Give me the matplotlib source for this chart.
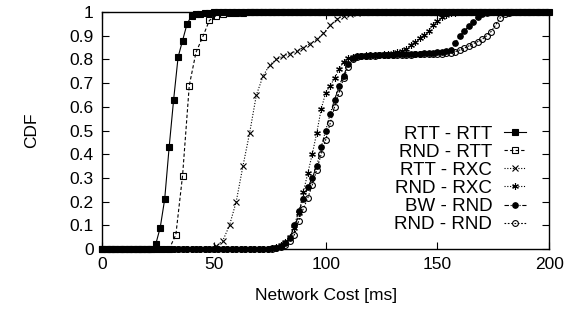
import numpy as np
import matplotlib
matplotlib.use("Agg")
import matplotlib.pyplot as plt

plt.rcParams['font.family'] = ['Liberation Sans', 'DejaVu Sans']

# ---- data (x sampling grids in ms, CDF values) ----
x_step2 = list(range(0, 201, 2))      # 101 points
x_step3 = list(range(0, 199, 3))      # 67 points

rtt_rtt = ([0.0] * 12 +
           [0.02, 0.09, 0.21, 0.43, 0.63, 0.81, 0.88, 0.95, 0.984, 0.99,
            0.994, 0.996, 0.998, 0.999] +
           [1.0] * 75)

rnd_rtt = ([0.0] * 11 +
           [0.06, 0.31, 0.69, 0.83, 0.895, 0.965, 0.985, 0.992, 0.995, 0.997,
            0.998, 0.999] +
           [1.0] * 44)

rtt_rxc = ([0.0] * 17 +
           [0.012, 0.035, 0.10, 0.20, 0.35, 0.49, 0.65, 0.73, 0.778, 0.80,
            0.814, 0.825, 0.835, 0.85, 0.867, 0.885, 0.91, 0.945, 0.97, 0.985,
            0.993, 0.997, 0.999] +
           [1.0] * 27)

rnd_rxc = ([0.0] * 38 +
           [0.003, 0.008, 0.015, 0.03, 0.05, 0.09, 0.15, 0.24, 0.32, 0.40,
            0.49, 0.59, 0.66, 0.69, 0.72, 0.76, 0.79, 0.805, 0.812, 0.815,
            0.816, 0.817, 0.818, 0.819, 0.82, 0.822, 0.825, 0.828, 0.832, 0.836,
            0.845, 0.86, 0.875, 0.89, 0.903, 0.922, 0.945, 0.962, 0.978, 0.988,
            0.995, 0.998] +
           [1.0] * 21)

bw_rnd = ([0.0] * 38 +
          [0.002, 0.006, 0.012, 0.025, 0.045, 0.10, 0.16, 0.21, 0.26, 0.30,
           0.35, 0.43, 0.50, 0.57, 0.63, 0.69, 0.73, 0.78, 0.805, 0.813,
           0.815, 0.816, 0.817, 0.818, 0.818, 0.819, 0.82, 0.82, 0.821, 0.822,
           0.822, 0.823, 0.824, 0.825, 0.826, 0.827, 0.828, 0.83, 0.832, 0.835,
           0.84, 0.87, 0.90, 0.92, 0.94, 0.958, 0.98, 0.992, 0.997] +
          [1.0] * 14)

rnd_rnd = ([0.0] * 38 +
           [0.001, 0.004, 0.009, 0.018, 0.033, 0.06, 0.12, 0.17, 0.215, 0.27,
            0.335, 0.40, 0.46, 0.53, 0.60, 0.66, 0.72, 0.77, 0.80, 0.81,
            0.814, 0.815, 0.816, 0.816, 0.817, 0.817, 0.818, 0.818, 0.819, 0.819,
            0.82, 0.82, 0.821, 0.821, 0.822, 0.822, 0.823, 0.824, 0.825, 0.826,
            0.828, 0.833, 0.84, 0.848, 0.857, 0.867, 0.875, 0.885, 0.90, 0.918,
            0.945, 0.975, 0.99, 0.997] +
           [1.0] * 9)

labels = ["RTT - RTT", "RND - RTT", "RTT - RXC", "RND - RXC", "BW - RND", "RND - RND"]
x_ticks = [0, 50, 100, 150, 200]
y_ticks = [0, 0.1, 0.2, 0.3, 0.4, 0.5, 0.6, 0.7, 0.8, 0.9, 1]
y_ticklabels = ["0", "0.1", "0.2", "0.3", "0.4", "0.5", "0.6", "0.7", "0.8", "0.9", "1"]

# ---- figure ----
fig = plt.figure(figsize=(5.8, 3.1), dpi=100)
ax = fig.add_axes([0.176, 0.197, 0.771, 0.764])

series = [
    (x_step2, rtt_rtt, dict(linestyle='-', marker='s', mfc='black', ms=4.6)),
    (x_step3, rnd_rtt, dict(linestyle=(0, (3, 2)), marker='s', mfc='none', ms=4.2)),
    (x_step3, rtt_rxc, dict(linestyle=(0, (1, 1.5)), marker='x', ms=4.2)),
    (x_step2, rnd_rxc, dict(linestyle=(0, (1, 1.5)), marker=(6, 2, 0), ms=4.8)),
    (x_step2, bw_rnd, dict(linestyle=(0, (4, 1.5, 1, 1.5)), marker='o', mfc='black', ms=4.0)),
    (x_step2, rnd_rnd, dict(linestyle=(0, (1.5, 1.5)), marker='o', mfc='none', ms=4.2)),
]

for (xs, ys, st), lab in zip(series, labels):
    ax.plot(xs, ys, color='black', lw=0.8, mew=0.8, mec='black', label=lab,
            clip_on=False, **st)

ax.set_xlim(0, 200)
ax.set_ylim(0, 1)
ax.set_xticks(x_ticks)
ax.set_xticklabels([str(v) for v in x_ticks])
ax.set_yticks(y_ticks)
ax.set_yticklabels(y_ticklabels)
ax.tick_params(direction='in', length=5, width=0.8, top=True, right=True,
               labelsize=12.5, pad=6)
for sp in ax.spines.values():
    sp.set_linewidth(1.0)
    sp.set_zorder(5)

ax.set_xlabel("Network Cost [ms]", fontsize=12.5, labelpad=11)
ax.set_ylabel("CDF", fontsize=12.5, labelpad=22)

leg = ax.legend(loc='lower right', frameon=False, markerfirst=False,
                fontsize=13.5, handlelength=1.2, handletextpad=0.6,
                labelspacing=0.05, borderaxespad=0.0,
                bbox_to_anchor=(0.965, 0.035))

fig.savefig("out.png", dpi=100)
